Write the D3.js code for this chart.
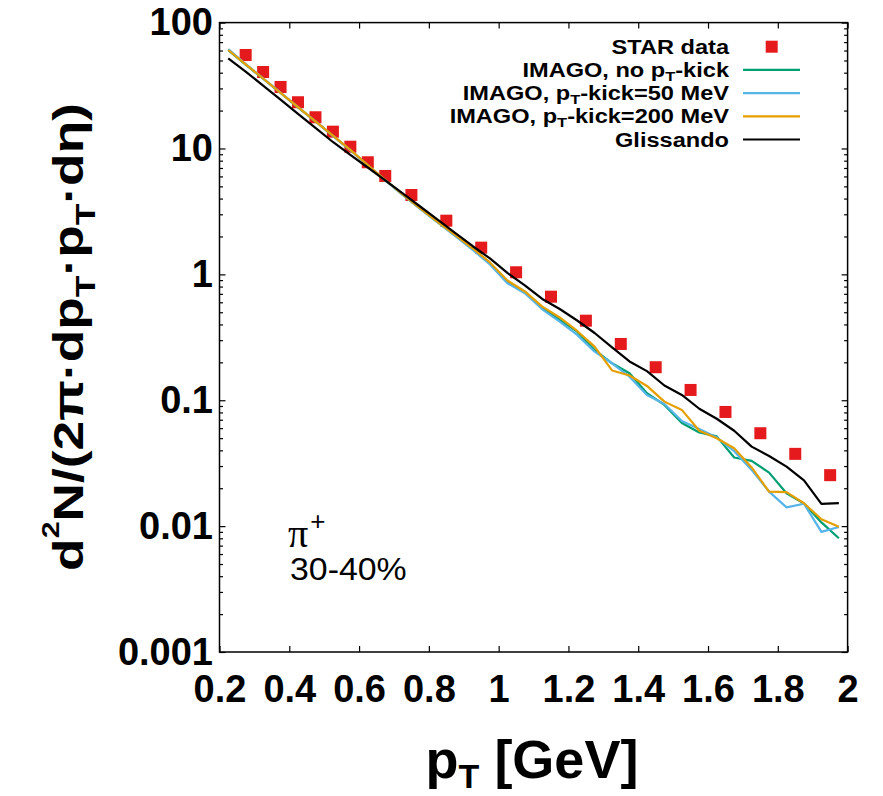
<!DOCTYPE html>
<html><head><meta charset="utf-8">
<script src="https://cdn.jsdelivr.net/npm/d3@7"></script>
<style>body{margin:0;background:#fff}</style>
</head><body>
<svg id="chart" width="883" height="796"></svg>
<script>
// ---------- data ----------
const modelPt = [0.225,0.275,0.325,0.375,0.425,0.475,0.525,0.575,0.625,0.675,0.725,0.775,0.825,0.875,0.925,0.975,1.025,1.075,1.125,1.175,1.225,1.275,1.325,1.375,1.425,1.475,1.525,1.575,1.625,1.675,1.725,1.775,1.825,1.875,1.925,1.975];
const starPt  = [0.275,0.325,0.375,0.425,0.475,0.525,0.575,0.625,0.675,0.75,0.85,0.95,1.05,1.15,1.25,1.35,1.45,1.55,1.65,1.75,1.85,1.95];
const starVal = [55.3,40.5,30.8,23.3,17.7,13.6,10.33,7.77,6.05,4.27,2.67,1.63,1.039,0.665,0.4286,0.280,0.1829,0.1207,0.0807,0.0547,0.0375,0.0254];
const noKick    = [60.3,46.4,35.8,27.6,21.2,16.4,12.6,9.72,7.36,5.60,4.29,3.33,2.60,2.04,1.597,1.232,0.875,0.7288,0.538,0.4344,0.3506,0.2508,0.1967,0.1639,0.1137,0.0918,0.066,0.0555,0.0516,0.0351,0.0330,0.0266,0.01826,0.0151,0.0107,0.00801];
const kick50    = [61.5,46.9,36.1,27.8,21.3,16.4,12.6,9.70,7.35,5.58,4.27,3.31,2.59,2.02,1.573,1.198,0.850,0.7077,0.528,0.421,0.330,0.2432,0.1967,0.154,0.1102,0.0935,0.0685,0.0592,0.0507,0.0394,0.02795,0.0188,0.01408,0.01506,0.009,0.00985];
const kick200   = [60.6,46.6,35.97,27.7,21.3,16.44,12.66,9.75,7.39,5.62,4.31,3.35,2.617,2.056,1.612,1.243,0.894,0.7315,0.554,0.4546,0.355,0.2666,0.1725,0.1574,0.1299,0.0975,0.0838,0.0572,0.0499,0.0416,0.02926,0.0188,0.0186,0.0152,0.01134,0.0099];
const glissando = [52.0,40.8,31.6,24.4,18.8,14.55,11.26,8.88,7.06,5.57,4.39,3.46,2.72,2.14,1.68,1.338,1.026,0.819,0.638,0.531,0.430,0.342,0.2627,0.2033,0.1703,0.1309,0.1102,0.0856,0.0713,0.0572,0.0428,0.0361,0.0297,0.0231,0.0150,0.01523];
const xTickValues = [0.2,0.4,0.6,0.8,1.0,1.2,1.4,1.6,1.8,2.0];
const xTickLabels = ["0.2","0.4","0.6","0.8","1","1.2","1.4","1.6","1.8","2"];
const yTickValues = [0.001,0.01,0.1,1,10,100];
const yTickLabels = ["0.001","0.01","0.1","1","10","100"];
const lineSeries = [
  {pre:"IMAGO, no p", post:"-kick", values:noKick, color:"#009e73"},
  {pre:"IMAGO, p", post:"-kick=50 MeV", values:kick50, color:"#56b4e9"},
  {pre:"IMAGO, p", post:"-kick=200 MeV", values:kick200, color:"#e69f00"},
  {pre:"Glissando", post:null, values:glissando, color:"#000000"}
];
const starColor = "#e41a1c";

// ---------- layout ----------
const L=219.5, R=847.6, T=22.6, B=652;
const SANS = "'Liberation Sans', Arial, Helvetica, sans-serif";
const svg = d3.select("#chart");
const x = d3.scaleLinear().domain([0.2,2]).range([L,R]);
const y = d3.scaleLog().domain([0.001,100]).range([B,T]);

const minor = [];
yTickValues.slice(0,-1).forEach(d=>{ for(let k=2;k<10;k++) minor.push(d*k); });

function styleAxis(g, showText){
  g.select(".domain").remove();
  g.selectAll(".tick line").attr("stroke","#000").attr("stroke-width",1.2);
  g.attr("font-family",SANS).attr("font-weight","bold").attr("font-size",38).attr("fill","#000");
  if(!showText) g.selectAll(".tick text").remove();
}
// bottom
svg.append("g").attr("transform",`translate(0,${B})`)
  .call(d3.axisBottom(x).tickValues(xTickValues).tickFormat((d,i)=>xTickLabels[i]).tickSizeInner(-6).tickSizeOuter(0).tickPadding(23.5))
  .call(g=>styleAxis(g,true));
// top
svg.append("g").attr("transform",`translate(0,${T})`)
  .call(d3.axisTop(x).tickValues(xTickValues).tickFormat("").tickSizeInner(-6).tickSizeOuter(0))
  .call(g=>styleAxis(g,false));
// left
svg.append("g").attr("transform",`translate(${L},0)`)
  .call(d3.axisLeft(y).tickValues(yTickValues).tickFormat((d,i)=>yTickLabels[i]).tickSizeInner(-6).tickSizeOuter(0).tickPadding(6.5))
  .call(g=>styleAxis(g,true));
svg.append("g").attr("transform",`translate(${L},0)`)
  .call(d3.axisLeft(y).tickValues(minor).tickFormat("").tickSizeInner(-3.5).tickSizeOuter(0))
  .call(g=>styleAxis(g,false));
// right
svg.append("g").attr("transform",`translate(${R},0)`)
  .call(d3.axisRight(y).tickValues(yTickValues).tickFormat("").tickSizeInner(-6).tickSizeOuter(0))
  .call(g=>styleAxis(g,false));
svg.append("g").attr("transform",`translate(${R},0)`)
  .call(d3.axisRight(y).tickValues(minor).tickFormat("").tickSizeInner(-3.5).tickSizeOuter(0))
  .call(g=>styleAxis(g,false));

// frame
svg.append("rect").attr("x",L).attr("y",T).attr("width",R-L).attr("height",B-T)
  .attr("fill","none").attr("stroke","#000").attr("stroke-width",1.5);

// STAR squares
svg.append("g").selectAll("rect").data(starVal).join("rect")
  .attr("x",(d,i)=>x(starPt[i])-6).attr("y",d=>y(d)-6)
  .attr("width",12).attr("height",12).attr("fill",starColor);

// model lines
const line = d3.line().x((d,i)=>x(modelPt[i])).y(d=>y(d));
lineSeries.forEach(s=>{
  svg.append("path").datum(s.values).attr("d",line)
    .attr("fill","none").attr("stroke",s.color).attr("stroke-width",2.2).attr("stroke-linejoin","round");
});

// legend
const legX = 729, legY0 = 46.7, legDy = 23.2, legFs = 19.5;
const leg = svg.append("g").attr("font-family",SANS).attr("font-weight","bold").attr("font-size",legFs);
function legendText(g, pre, post){
  const t = g.append("text").attr("text-anchor","end").attr("transform","scale(1.21,1)");
  t.append("tspan").text(pre);
  if(post!==null){
    t.append("tspan").attr("font-size",legFs*0.7).attr("dy",4).text("T");
    t.append("tspan").attr("dy",-4).text(post);
  }
}
{
  const g = leg.append("g").attr("transform",`translate(${legX},${legY0+7})`);
  legendText(g,"STAR data",null);
  leg.append("rect").attr("x",771.7-6).attr("y",legY0-6).attr("width",12).attr("height",12).attr("fill",starColor);
}
lineSeries.forEach((s,i)=>{
  const yy = legY0 + (i+1)*legDy;
  const g = leg.append("g").attr("transform",`translate(${legX},${yy+7})`);
  legendText(g,s.pre,s.post);
  leg.append("line").attr("x1",743).attr("x2",800).attr("y1",yy).attr("y2",yy)
    .attr("stroke",s.color).attr("stroke-width",2.2);
});

// pi+ label
const pl = svg.append("g");
const pt = pl.append("text").attr("x",288).attr("y",547);
pt.append("tspan").attr("font-family","'Liberation Serif', 'Times New Roman', serif").attr("font-size",40).text("π");
pt.append("tspan").attr("font-family",SANS).attr("font-size",26).attr("dy",-17).attr("dx",2).text("+");
pl.append("text").attr("transform","translate(290,580) scale(1.11,1)")
  .attr("font-family",SANS).attr("font-size",30.5).text("30-40%");

// x axis title
const xt = svg.append("text").attr("x",532).attr("y",778).attr("text-anchor","middle")
  .attr("font-family",SANS).attr("font-weight","bold").attr("font-size",54);
xt.append("tspan").text("p");
xt.append("tspan").attr("font-size",34).attr("dy",10).text("T");
xt.append("tspan").attr("dy",-10).text(" [GeV]");

// y axis title (rotated)
const yg = svg.append("g").attr("transform","translate(83,337) rotate(-90)");
const yt = yg.append("text").attr("text-anchor","middle")
  .attr("font-family",SANS).attr("font-weight","bold").attr("font-size",42);
yt.append("tspan").text("d");
yt.append("tspan").attr("font-size",24).attr("dy",-24).text("2");
yt.append("tspan").attr("dy",24).text("N/(2π·dp");
yt.append("tspan").attr("font-size",28).attr("dy",12).text("T");
yt.append("tspan").attr("dy",-12).text("·p");
yt.append("tspan").attr("font-size",28).attr("dy",12).text("T");
yt.append("tspan").attr("dy",-12).text("·dη)");
const bb = yt.node().getBBox();
yt.attr("transform",`scale(${468/bb.width},1)`);
</script>
</body></html>
